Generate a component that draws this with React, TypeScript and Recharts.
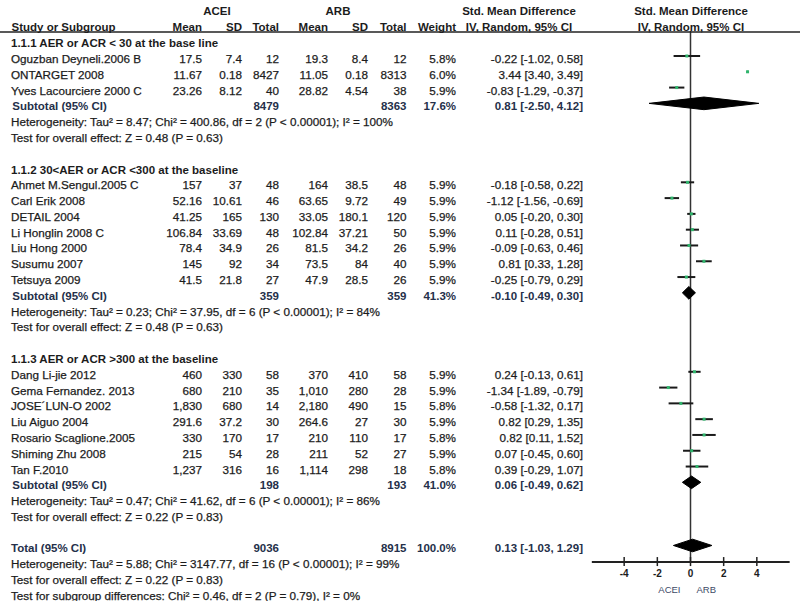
import React from 'react';
import { ComposedChart, XAxis, YAxis, Scatter, ErrorBar, ReferenceLine } from 'recharts';

// ---------- data ----------
const groupTitles = [
  '1.1.1 AER or ACR < 30 at the base line',
  '1.1.2 30<AER or ACR <300 at the baseline',
  '1.1.3 AER or ACR >300 at the baseline',
];
const groupSizes = [3, 7, 7];

const studyNames = [
  'Oguzban Deyneli.2006 B', 'ONTARGET 2008', 'Yves Lacourciere 2000 C',
  'Ahmet M.Sengul.2005 C', 'Carl Erik 2008', 'DETAIL 2004', 'Li Honglin 2008 C', 'Liu Hong 2000', 'Susumu 2007', 'Tetsuya 2009',
  'Dang Li-jie 2012', 'Gema Fernandez. 2013', 'JOSE\u00B4LUN-O 2002', 'Liu Aiguo 2004', 'Rosario Scaglione.2005', 'Shiming Zhu 2008', 'Tan F.2010',
];
const aceiMean = [17.5, 11.67, 23.26, 157, 52.16, 41.25, 106.84, 78.4, 145, 41.5, 460, 680, 1830, 291.6, 330, 215, 1237];
const aceiSd = [7.4, 0.18, 8.12, 37, 10.61, 165, 33.69, 34.9, 92, 21.8, 330, 210, 680, 37.2, 170, 54, 316];
const aceiN = [12, 8427, 40, 48, 46, 130, 48, 26, 34, 27, 58, 35, 14, 30, 17, 28, 16];
const arbMean = [19.3, 11.05, 28.82, 164, 63.65, 33.05, 102.84, 81.5, 73.5, 47.9, 370, 1010, 2180, 264.6, 210, 211, 1114];
const arbSd = [8.4, 0.18, 4.54, 38.5, 9.72, 180.1, 37.21, 34.2, 84, 28.5, 410, 280, 490, 27, 110, 52, 298];
const arbN = [12, 8313, 38, 48, 49, 120, 50, 26, 40, 26, 58, 28, 15, 30, 17, 27, 18];
const weights = [5.8, 6.0, 5.9, 5.9, 5.9, 5.9, 5.9, 5.9, 5.9, 5.9, 5.9, 5.9, 5.8, 5.9, 5.8, 5.9, 5.8];
const smd = [-0.22, 3.44, -0.83, -0.18, -1.12, 0.05, 0.11, -0.09, 0.81, -0.25, 0.24, -1.34, -0.58, 0.82, 0.82, 0.07, 0.39];
const ciLow = [-1.02, 3.4, -1.29, -0.58, -1.56, -0.2, -0.28, -0.63, 0.33, -0.79, -0.13, -1.89, -1.32, 0.29, 0.11, -0.45, -0.29];
const ciHigh = [0.58, 3.49, -0.37, 0.22, -0.69, 0.3, 0.51, 0.46, 1.28, 0.29, 0.61, -0.79, 0.17, 1.35, 1.52, 0.6, 1.07];

const subAceiN = [8479, 359, 198];
const subArbN = [8363, 359, 193];
const subWeight = [17.6, 41.3, 41.0];
const subSmd = [0.81, -0.1, 0.06];
const subLow = [-2.5, -0.49, -0.49];
const subHigh = [4.12, 0.3, 0.62];
const subTau2 = [8.47, 0.23, 0.47];
const subChi2 = [400.86, 37.95, 41.62];
const subDf = [2, 6, 6];
const subI2 = [100, 84, 86];
const subZ = [0.48, 0.48, 0.22];
const subP = [0.63, 0.63, 0.83];

const totalAceiN = 9036;
const totalArbN = 8915;
const totalWeight = 100.0;
const totalSmd = 0.13;
const totalLow = -1.03;
const totalHigh = 1.29;
const totalTau2 = 5.88;
const totalChi2 = 3147.77;
const totalDf = 16;
const totalI2 = 99;
const totalZ = 0.22;
const totalP = 0.83;
const diffChi2 = 0.46;
const diffDf = 2;
const diffP = 0.79;
const diffI2 = 0;

const axisTicks = [-4, -2, 0, 2, 4];
const favourLabels = ['ACEI', 'ARB'];

// ---------- layout constants ----------
const ROW_TOP = -2.546;
const ROW_BOTTOM = 35.516;
const AXIS_ROW = 33.05;
const HEADER_ROW = -1;
const FONT = '"Liberation Sans", Arial, sans-serif';
const TXT = '#1c1c1c';
const SUBTXT = '#25304a';
const DIAMOND_H = 0.4;

const fmtVal = (v: number) => v.toLocaleString('en-US', { maximumFractionDigits: 2 });
const f2 = (v: number) => v.toFixed(2);
const ciText = (s: number, lo: number, hi: number) => `${f2(s)} [${f2(lo)}, ${f2(hi)}]`;
const hetText = (t: number, c: number, d: number, i: number) =>
  `Heterogeneity: Tau\u00B2 = ${f2(t)}; Chi\u00B2 = ${f2(c)}, df = ${d} (P < 0.00001); I\u00B2 = ${i}%`;
const testText = (z: number, p: number) => `Test for overall effect: Z = ${f2(z)} (P = ${f2(p)})`;

// ---------- build rows ----------
type TRow = { x: number; y: number; kind: string; cells: string[] };
const textRows: TRow[] = [];
const studyPts: any[] = [];
const diamonds: any[][] = [];

const diamondPts = (s: number, lo: number, hi: number, r: number) => [
  { x: lo, y: r },
  { x: s, y: r - DIAMOND_H },
  { x: hi, y: r },
  { x: s, y: r + DIAMOND_H },
  { x: lo, y: r },
];

let row = 0;
let si = 0;
groupTitles.forEach((title, g) => {
  textRows.push({ x: 0, y: row, kind: 'group', cells: [title] });
  row++;
  for (let k = 0; k < groupSizes[g]; k++) {
    const i = si++;
    textRows.push({
      x: 0, y: row, kind: 'study',
      cells: [studyNames[i], fmtVal(aceiMean[i]), fmtVal(aceiSd[i]), String(aceiN[i]), fmtVal(arbMean[i]), fmtVal(arbSd[i]), String(arbN[i]), `${weights[i].toFixed(1)}%`, ciText(smd[i], ciLow[i], ciHigh[i])],
    });
    studyPts.push({ x: smd[i], y: row, err: [smd[i] - ciLow[i], ciHigh[i] - smd[i]] });
    row++;
  }
  textRows.push({
    x: 0, y: row, kind: 'subtotal',
    cells: ['Subtotal (95% CI)', String(subAceiN[g]), String(subArbN[g]), `${subWeight[g].toFixed(1)}%`, ciText(subSmd[g], subLow[g], subHigh[g])],
  });
  diamonds.push(diamondPts(subSmd[g], subLow[g], subHigh[g], row));
  row++;
  textRows.push({ x: 0, y: row, kind: 'het', cells: [hetText(subTau2[g], subChi2[g], subDf[g], subI2[g])] });
  row++;
  textRows.push({ x: 0, y: row, kind: 'het', cells: [testText(subZ[g], subP[g])] });
  row += 2;
});
textRows.push({
  x: 0, y: row, kind: 'total',
  cells: ['Total (95% CI)', String(totalAceiN), String(totalArbN), `${totalWeight.toFixed(1)}%`, ciText(totalSmd, totalLow, totalHigh)],
});
diamonds.push(diamondPts(totalSmd, totalLow, totalHigh, row));
row++;
textRows.push({ x: 0, y: row, kind: 'het', cells: [hetText(totalTau2, totalChi2, totalDf, totalI2)] });
row++;
textRows.push({ x: 0, y: row, kind: 'het', cells: [testText(totalZ, totalP)] });
row++;
textRows.push({
  x: 0, y: row, kind: 'het',
  cells: [`Test for subgroup differences: Chi\u00B2 = ${f2(diffChi2)}, df = ${diffDf} (P = ${f2(diffP)}), I\u00B2 = ${diffI2}%`],
});

const tickPts = axisTicks.map((t) => ({ x: t, y: AXIS_ROW }));
const favourPts = [{ x: 0, y: AXIS_ROW }];
const headerPts = [{ x: 0, y: HEADER_ROW }];

// ---------- shapes ----------
const Empty = () => <g />;

const colRight = [202, 242, 279, 328, 368, 406.5, 456, 583];

const TextRowShape = (props: any) => {
  const { cy, payload } = props;
  const p: TRow = payload;
  const by = cy + 7;
  if (p.kind === 'study') {
    return (
      <g fontFamily={FONT} fontSize={11.7} fill={TXT} stroke={TXT} strokeWidth={0.25}>
        <text x={11} y={by}>{p.cells[0]}</text>
        {p.cells.slice(1).map((c, i) => (
          <text key={i} x={colRight[i]} y={by} textAnchor="end">{c}</text>
        ))}
      </g>
    );
  }
  if (p.kind === 'group') {
    return (
      <text x={11} y={by} fontFamily={FONT} fontSize={11.5} fontWeight="bold" fill={TXT}>{p.cells[0]}</text>
    );
  }
  if (p.kind === 'subtotal' || p.kind === 'total') {
    const x0 = p.kind === 'subtotal' ? 12.3 : 11;
    return (
      <g fontFamily={FONT} fontSize={11.5} fontWeight="bold" fill={SUBTXT}>
        <text x={x0} y={by}>{p.cells[0]}</text>
        <text x={colRight[2]} y={by} textAnchor="end">{p.cells[1]}</text>
        <text x={colRight[5]} y={by} textAnchor="end">{p.cells[2]}</text>
        <text x={colRight[6]} y={by} textAnchor="end">{p.cells[3]}</text>
        <text x={colRight[7]} y={by} textAnchor="end">{p.cells[4]}</text>
      </g>
    );
  }
  return (
    <text x={11} y={by} fontFamily={FONT} fontSize={11.7} fill={TXT} stroke={TXT} strokeWidth={0.25}>{p.cells[0]}</text>
  );
};

const HeaderShape = (props: any) => {
  const { cy } = props;
  const y1 = cy - 9.4;
  const y2 = cy + 6.1;
  return (
    <g fontFamily={FONT} fontSize={11.5} fontWeight="bold" fill={TXT}>
      <text x={217} y={y1} textAnchor="middle">ACEI</text>
      <text x={338} y={y1} textAnchor="middle">ARB</text>
      <text x={519} y={y1} textAnchor="middle">Std. Mean Difference</text>
      <text x={691} y={y1} textAnchor="middle">Std. Mean Difference</text>
      <text x={11.5} y={y2}>Study or Subgroup</text>
      <text x={colRight[0]} y={y2} textAnchor="end">Mean</text>
      <text x={colRight[1]} y={y2} textAnchor="end">SD</text>
      <text x={colRight[2]} y={y2} textAnchor="end">Total</text>
      <text x={colRight[3]} y={y2} textAnchor="end">Mean</text>
      <text x={colRight[4]} y={y2} textAnchor="end">SD</text>
      <text x={colRight[5]} y={y2} textAnchor="end">Total</text>
      <text x={colRight[6]} y={y2} textAnchor="end">Weight</text>
      <text x={519} y={y2} textAnchor="middle">IV, Random, 95% CI</text>
      <text x={691} y={y2} textAnchor="middle">IV, Random, 95% CI</text>
      <line x1={0} x2={800} y1={cy + 7.6} y2={cy + 7.6} stroke="#222" strokeWidth={1.5} />
    </g>
  );
};

const TickShape = (props: any) => {
  const { cx, cy, payload } = props;
  return (
    <g>
      <line x1={cx} x2={cx} y1={cy - 5} y2={cy + 4} stroke="#222" strokeWidth={1.5} />
      <text x={cx} y={cy + 14.5} textAnchor="middle" fontFamily={FONT} fontSize={10} fontWeight="bold" fill={TXT}>
        {String(payload.x)}
      </text>
    </g>
  );
};

const FavourShape = (props: any) => {
  const { cx, cy } = props;
  return (
    <g fontFamily={FONT} fontSize={9.5} fill="#3d4a66">
      <text x={cx - 10} y={cy + 31} textAnchor="end">{favourLabels[0]}</text>
      <text x={cx + 6} y={cy + 31} textAnchor="start">{favourLabels[1]}</text>
    </g>
  );
};

const PointShape = (props: any) => {
  const { cx, cy } = props;
  return <rect x={cx - 1.5} y={cy - 1.5} width={3} height={3} fill="#2fb56c" />;
};

export default function App() {
  return (
    <div style={{ position: 'absolute', left: 0, top: 0, width: 800, height: 601, background: '#fff' }}>
      <ComposedChart width={800} height={601} margin={{ top: 0, right: 10, bottom: 0, left: 591 }}>
        <XAxis type="number" dataKey="x" domain={[-6, 6]} hide />
        <YAxis type="number" dataKey="y" domain={[ROW_TOP, ROW_BOTTOM]} reversed hide />
        <ReferenceLine segment={[{ x: 0, y: -0.58 }, { x: 0, y: AXIS_ROW }]} stroke="#333" strokeWidth={1.5} />
        <ReferenceLine segment={[{ x: -5.95, y: AXIS_ROW }, { x: 5.98, y: AXIS_ROW }]} stroke="#222" strokeWidth={2} />
        <Scatter data={headerPts} shape={HeaderShape} isAnimationActive={false} />
        <Scatter data={textRows} shape={TextRowShape} isAnimationActive={false} />
        <Scatter data={studyPts} shape={Empty} isAnimationActive={false}>
          <ErrorBar dataKey="err" direction="x" width={0} stroke="#1a1a1a" strokeWidth={2} />
        </Scatter>
        <Scatter data={studyPts} shape={PointShape} isAnimationActive={false} />
        {diamonds.map((d, i) => (
          <Scatter
            key={i}
            data={d}
            shape={Empty}
            line={{ stroke: '#000', fill: '#000', strokeWidth: 1 }}
            lineType="joint"
            isAnimationActive={false}
          />
        ))}
        <Scatter data={tickPts} shape={TickShape} isAnimationActive={false} />
        <Scatter data={favourPts} shape={FavourShape} isAnimationActive={false} />
      </ComposedChart>
    </div>
  );
}
